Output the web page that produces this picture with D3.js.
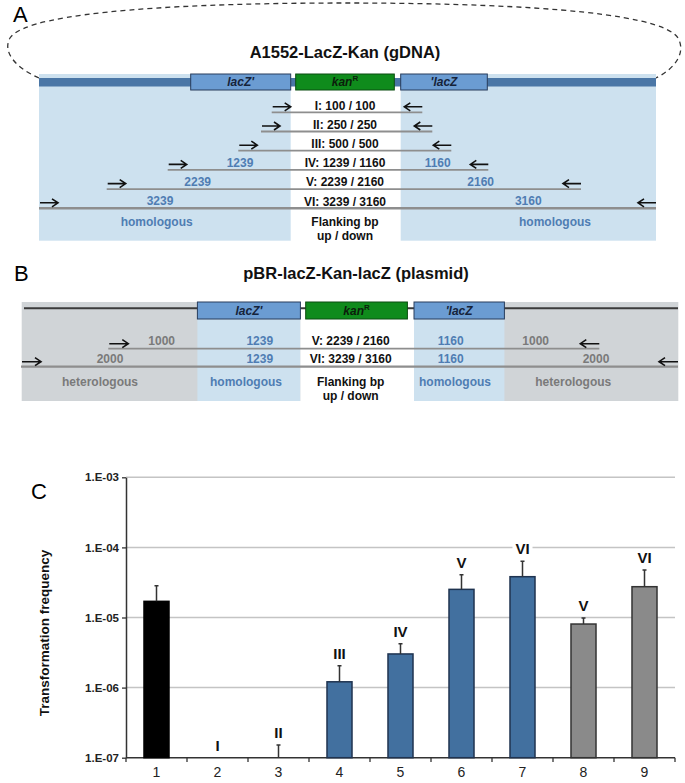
<!DOCTYPE html>
<html><head><meta charset="utf-8">
<script src="https://cdn.jsdelivr.net/npm/d3@7"></script>
<style>body{margin:0;background:#fff}svg{display:block;font-family:"Liberation Sans",Arial,sans-serif}</style>
</head><body><svg id="fig" width="685" height="783"></svg>
<script>
// ---------------- DATA ----------------
// Panel A: PCR constructs on gDNA (flanking bp upstream / downstream)
const rowsA = ["I", "II", "III", "IV", "V", "VI"];
const upA = [100, 250, 500, 1239, 2239, 3239];
const downA = [100, 250, 500, 1160, 2160, 3160];
// Panel B: plasmid constructs
const rowsB = ["V", "VI"];
const upB = [2239, 3239];
const downB = [2160, 3160];
const homolUpB = [1239, 1239];
const homolDownB = [1160, 1160];
const heteroB = [1000, 2000];
// Panel C: transformation frequency
const lanes = ["1", "2", "3", "4", "5", "6", "7", "8", "9"];
const freq = [1.70e-5, 0, 0, 1.21e-6, 3.02e-6, 2.52e-5, 3.82e-5, 8.07e-6, 2.75e-5];
const freqErrTop = [2.84e-5, 0, 1.52e-7, 2.05e-6, 4.23e-6, 4.08e-5, 6.34e-5, 9.84e-6, 4.76e-5];
const laneConstruct = ["", "I", "II", "III", "IV", "V", "VI", "V", "VI"];
const laneGroup = ["gDNA", "PCR", "PCR", "PCR", "PCR", "PCR", "PCR", "plasmid", "plasmid"];
const yTickValues = [1e-7, 1e-6, 1e-5, 1e-4, 1e-3];
const yTickLabels = ["1.E-07", "1.E-06", "1.E-05", "1.E-04", "1.E-03"];

// ---------------- DRAW ----------------
const svg = d3.select("#fig");
const BLUE_TXT = "#4f7db3", GRAY_TXT = "#7a7a7a", LINE = "#8e8e8e";
const C = {lightBlue: "#cde1ef", band: "#4a76a6", box: "#6b9cd2", boxStroke: "#283d5c",
  kan: "#0f8b1c", kanStroke: "#0a4d10", grayBg: "#d0d4d7"};

function arrow(g, x0, x1, y) {
  const dir = Math.sign(x1 - x0);
  g.append("path")
    .attr("d", `M${x0},${y}H${x1}M${x1 - dir * 6},${y - 4}L${x1},${y}L${x1 - dir * 6},${y + 4}`)
    .attr("fill", "none").attr("stroke", "#111").attr("stroke-width", 1.6);
}
function txt(g, x, y, s, o = {}) {
  return g.append("text").attr("x", x).attr("y", y).attr("text-anchor", o.anchor || "middle")
    .attr("font-size", o.size || 12).attr("font-weight", o.weight || "bold")
    .attr("font-style", o.style || "normal").attr("fill", o.fill || "#111").text(s);
}
function geneBoxes(g, boxes, y, h) {
  boxes.forEach(b => {
    g.append("rect").attr("x", b.x).attr("y", y).attr("width", b.w).attr("height", h)
      .attr("fill", b.kan ? C.kan : C.box).attr("stroke", b.kan ? C.kanStroke : C.boxStroke).attr("stroke-width", 1);
    const t = g.append("text").attr("x", b.x + b.w / 2).attr("y", y + h / 2 + 4.3).attr("text-anchor", "middle")
      .attr("font-size", 12).attr("font-weight", "bold").attr("font-style", "italic")
      .attr("fill", b.kan ? "#0b1d0b" : "#15233a");
    if (b.kan) {
      t.append("tspan").text("kan");
      t.append("tspan").attr("font-size", 8).attr("dy", -5).attr("font-style", "normal").text("R");
    } else t.text(b.name);
  });
}

// ===== Panel A =====
const A = svg.append("g");
txt(A, 13, 22, "A", {size: 22, weight: "normal", anchor: "start", fill: "#000"});
A.append("path")
  .attr("d", "M39,78 C16,68 2,52 10,38 C28,10 200,3 345,3 C495,3 660,10 678,38 C686,52 676,68 656,78")
  .attr("fill", "none").attr("stroke", "#333").attr("stroke-width", 1.3).attr("stroke-dasharray", "5,4");
txt(A, 345, 58, "A1552-LacZ-Kan (gDNA)", {size: 16.5, fill: "#111"});
A.append("rect").attr("x", 39).attr("y", 74).attr("width", 251.7).attr("height", 166.7).attr("fill", C.lightBlue);
A.append("rect").attr("x", 400.7).attr("y", 74).attr("width", 255.3).attr("height", 166.7).attr("fill", C.lightBlue);
A.append("rect").attr("x", 39).attr("y", 78).attr("width", 617).attr("height", 8.5).attr("fill", C.band);
geneBoxes(A, [{name: "lacZ'", x: 190.7, w: 100}, {kan: true, x: 295.7, w: 98.6}, {name: "'lacZ", x: 400.7, w: 86.6}], 74, 16);

const yA = d3.scaleLinear().domain([0, rowsA.length - 1]).range([112.3, 208.3]);
const leftA = d3.scaleLinear().domain(upA).range([271.7, 261, 238.3, 167.7, 106.7, 39]);
const rightA = d3.scaleLinear().domain(downA).range([422.3, 432.3, 451.3, 488.3, 581, 656]);
const numPosA = {3: [240, 437.7], 4: [197.7, 480.7], 5: [160, 528.3]};
rowsA.forEach((r, i) => {
  const y = yA(i), x0 = leftA(upA[i]), x1 = rightA(downA[i]);
  A.append("line").attr("x1", x0).attr("x2", x1).attr("y1", y).attr("y2", y)
    .attr("stroke", LINE).attr("stroke-width", i === 5 ? 2.4 : 1.8);
  arrow(A, x0 + 1, x0 + 19, y - 5.5);
  arrow(A, x1, x1 - 18, y - 5.5);
  txt(A, 345, y - 2.7, `${r}: ${upA[i]} / ${downA[i]}`);
  if (numPosA[i]) {
    txt(A, numPosA[i][0], y - 3.2, upA[i], {fill: BLUE_TXT});
    txt(A, numPosA[i][1], y - 3.2, downA[i], {fill: BLUE_TXT});
  }
});
txt(A, 156.7, 226, "homologous", {fill: BLUE_TXT});
txt(A, 555, 226, "homologous", {fill: BLUE_TXT});
txt(A, 345, 225.5, "Flanking bp");
txt(A, 345, 240, "up / down");

// ===== Panel B =====
const B = svg.append("g");
txt(B, 14, 281, "B", {size: 22, weight: "normal", anchor: "start", fill: "#000"});
txt(B, 356, 279, "pBR-lacZ-Kan-lacZ (plasmid)", {size: 16.5});
B.append("rect").attr("x", 21.7).attr("y", 302).attr("width", 656.6).attr("height", 99).attr("fill", C.grayBg);
B.append("rect").attr("x", 197.4).attr("y", 302).attr("width", 103).attr("height", 99).attr("fill", C.lightBlue);
B.append("rect").attr("x", 300.4).attr("y", 302).attr("width", 113.6).attr("height", 99).attr("fill", "#fff");
B.append("rect").attr("x", 414).attr("y", 302).attr("width", 90.4).attr("height", 99).attr("fill", C.lightBlue);
B.append("line").attr("x1", 24).attr("x2", 678).attr("y1", 308.3).attr("y2", 308.3).attr("stroke", "#3a3a3a").attr("stroke-width", 2);
geneBoxes(B, [{name: "lacZ'", x: 197.4, w: 103}, {kan: true, x: 305.7, w: 101.7}, {name: "'lacZ", x: 414, w: 90.4}], 302, 17);

const yB = d3.scaleLinear().domain([0, 1]).range([348.7, 366.7]);
const leftB = d3.scaleLinear().domain(upB).range([108.3, 21]);
const rightB = d3.scaleLinear().domain(downB).range([599.3, 678]);
const heteroPosB = [[161.7, 535.7], [110, 596]];
rowsB.forEach((r, i) => {
  const y = yB(i), x0 = leftB(upB[i]), x1 = rightB(downB[i]);
  B.append("line").attr("x1", x0).attr("x2", x1).attr("y1", y).attr("y2", y)
    .attr("stroke", LINE).attr("stroke-width", i === 1 ? 2.2 : 1.8);
  arrow(B, x0 + 1, x0 + 20, y - 5);
  arrow(B, x1, x1 - 19, y - 5);
  txt(B, 350.7, y - 4.2, `${r}: ${upB[i]} / ${downB[i]}`);
  txt(B, 259.8, y - 4.2, homolUpB[i], {fill: BLUE_TXT});
  txt(B, 450.7, y - 4.2, homolDownB[i], {fill: BLUE_TXT});
  txt(B, heteroPosB[i][0], y - 4.2, heteroB[i], {fill: GRAY_TXT});
  txt(B, heteroPosB[i][1], y - 4.2, heteroB[i], {fill: GRAY_TXT});
});
txt(B, 100, 386, "heterologous", {fill: GRAY_TXT});
txt(B, 573.3, 386, "heterologous", {fill: GRAY_TXT});
txt(B, 246, 386, "homologous", {fill: BLUE_TXT});
txt(B, 455, 386, "homologous", {fill: BLUE_TXT});
txt(B, 350.7, 386, "Flanking bp");
txt(B, 350.7, 400, "up / down");

// ===== Panel C =====
const P = svg.append("g");
txt(P, 31, 499, "C", {size: 22, weight: "normal", anchor: "start", fill: "#000"});
const x = d3.scaleBand().domain(lanes).range([126, 675]).paddingInner(0.59).paddingOuter(0.295);
const xb = d3.scaleBand().domain(lanes).range([126, 675]);
const y = d3.scaleLog().domain([1e-7, 1e-3]).range([757.7, 477.3]);
const colorOf = d3.scaleOrdinal().domain(["gDNA", "PCR", "plasmid"]).range(["#000000", "#42709f", "#8a8a8a"]);
const strokeOf = d3.scaleOrdinal().domain(["gDNA", "PCR", "plasmid"]).range(["#000000", "#1f3350", "#333333"]);
const yv = v => y(Math.max(v, 1e-7));

// gridlines
P.selectAll("line.grid").data(yTickValues.slice(1)).join("line").attr("class", "grid")
  .attr("x1", 126).attr("x2", 675).attr("y1", d => y(d)).attr("y2", d => y(d))
  .attr("stroke", "#c4c4c4").attr("stroke-width", 1.5);

// y axis
const yAxis = d3.axisLeft(y).tickValues(yTickValues).tickSize(4).tickSizeOuter(0).tickFormat((d, i) => yTickLabels[i]);
const gy = P.append("g").attr("transform", "translate(126,0)").call(yAxis);
gy.select(".domain").attr("stroke", "#333").attr("stroke-width", 1.5);
gy.selectAll(".tick line").attr("stroke", "#333").attr("stroke-width", 1.3);
gy.selectAll(".tick text").attr("font-family", "Liberation Sans, Arial, sans-serif").attr("font-size", 11.5)
  .attr("font-weight", "bold").attr("fill", "#222").attr("x", -7);

// x axis with boundary ticks
P.append("line").attr("x1", 126).attr("x2", 675).attr("y1", 757.7).attr("y2", 757.7).attr("stroke", "#333").attr("stroke-width", 1.5);
const bounds = lanes.map(l => xb(l)).concat([675]);
P.selectAll("line.xt").data(bounds).join("line").attr("class", "xt")
  .attr("x1", d => d).attr("x2", d => d).attr("y1", 757.7).attr("y2", 762)
  .attr("stroke", "#333").attr("stroke-width", 1.3);
P.selectAll("text.xl").data(lanes).join("text").attr("class", "xl")
  .attr("x", d => xb(d) + xb.bandwidth() / 2).attr("y", 777).attr("text-anchor", "middle")
  .attr("font-size", 14).attr("fill", "#222").text(d => d);

// bars
P.selectAll("rect.bar").data(lanes).join("rect").attr("class", "bar")
  .attr("x", d => x(d)).attr("width", x.bandwidth())
  .attr("y", (d, i) => yv(freq[i])).attr("height", (d, i) => 757.7 - yv(freq[i]))
  .attr("fill", (d, i) => colorOf(laneGroup[i])).attr("stroke", (d, i) => strokeOf(laneGroup[i])).attr("stroke-width", 1.5);

// error bars (upper only)
lanes.forEach((d, i) => {
  if (!(freqErrTop[i] > 0)) return;
  const cx = x(d) + x.bandwidth() / 2, y0 = yv(freq[i]), y1 = y(freqErrTop[i]);
  P.append("path").attr("d", `M${cx},${y0}V${y1}M${cx - 2},${y1}H${cx + 2}`)
    .attr("stroke", "#333").attr("stroke-width", 1.5).attr("fill", "none");
});

// construct labels
lanes.forEach((d, i) => {
  if (!laneConstruct[i]) return;
  const cx = x(d) + x.bandwidth() / 2;
  const top = freqErrTop[i] > 0 ? y(freqErrTop[i]) : yv(freq[i]);
  const w = laneConstruct[i].length * 5 + 10;
  P.append("rect").attr("x", cx - w / 2).attr("y", top - 21).attr("width", w).attr("height", 16).attr("fill", "#fff");
  txt(P, cx, top - 7, laneConstruct[i], {size: 15, fill: "#111"});
});

// y label
P.append("text").attr("transform", "translate(48.5,633) rotate(-90)").attr("text-anchor", "middle")
  .attr("font-size", 13.5).attr("font-weight", "bold").attr("fill", "#111").text("Transformation frequency");
</script></body></html>
